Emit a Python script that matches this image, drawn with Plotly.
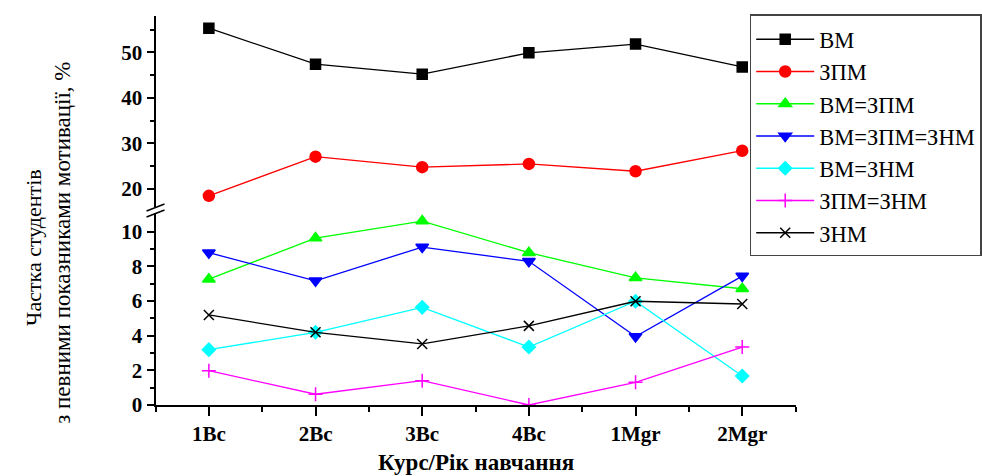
import plotly.graph_objects as go

categories = ["1Bc", "2Bc", "3Bc", "4Bc", "1Mgr", "2Mgr"]

vm = [55.3, 47.4, 45.2, 49.9, 51.8, 46.8]
zpm = [18.5, 27.1, 24.8, 25.5, 23.9, 28.4]
vm_zpm = [7.25, 9.62, 10.6, 8.78, 7.33, 6.7]
vm_zpm_znm = [8.78, 7.16, 9.1, 8.28, 3.95, 7.43]
vm_znm = [3.19, 4.19, 5.63, 3.34, 5.98, 1.67]
zpm_znm = [1.98, 0.62, 1.4, 0.0, 1.31, 3.34]
znm = [5.19, 4.19, 3.52, 4.56, 5.98, 5.82]

upper_ticks = [20, 30, 40, 50]
upper_minor = [25, 35, 45, 55]
lower_ticks = [0, 2, 4, 6, 8, 10]
lower_minor = [1, 3, 5, 7, 9]

W, H = 982, 476
xpos = list(range(len(categories)))
SERIF = "Liberation Serif, DejaVu Serif, serif"

def py(p):
    return 1 - p / H

fig = go.Figure()

series = [
    ("ВМ", vm, "black", "square", 10, "y2", "x2"),
    ("ЗПМ", zpm, "red", "circle", 11, "y2", "x2"),
    ("ВМ=ЗПМ", vm_zpm, "#00ff00", "triangle-up", 11, "y", "x"),
    ("ВМ=ЗПМ=ЗНМ", vm_zpm_znm, "#0000ff", "triangle-down", 11, "y", "x"),
    ("ВМ=ЗНМ", vm_znm, "#00ffff", "diamond", 10, "y", "x"),
    ("ЗПМ=ЗНМ", zpm_znm, "#ff00ff", "cross-thin", 10, "y", "x"),
    ("ЗНМ", znm, "black", "x-thin", 10, "y", "x"),
]

for name, vals, col, sym, sz, ya, xa in series:
    fig.add_trace(go.Scatter(
        x=xpos, y=vals, name=name, mode="lines+markers",
        line=dict(color=col, width=1.3),
        marker=dict(symbol=sym, size=sz, color=col, line=dict(color=col, width=1.5)),
        xaxis=xa, yaxis=ya,
    ))

tickfont = dict(family=SERIF, size=21, color="black", weight="bold")

x_dom = [156 / W, 798 / W]
fig.update_layout(
    width=W, height=H, autosize=False,
    margin=dict(l=0, r=0, t=0, b=0, pad=0),
    paper_bgcolor="white", plot_bgcolor="white",
    showlegend=True,
    xaxis=dict(
        domain=x_dom, range=[-0.5, 5.5], anchor="y", automargin=False,
        tickmode="array", tickvals=xpos, ticktext=categories,
        ticks="outside", ticklen=9, tickwidth=1.5, tickcolor="black",
        minor=dict(tickmode="array", tickvals=[i - 0.5 for i in range(len(categories) + 1)],
                   ticks="outside", ticklen=5, tickwidth=1.5, tickcolor="black"),
        showline=True, linecolor="black", linewidth=2,
        showgrid=False, zeroline=False, tickfont=tickfont,
    ),
    xaxis2=dict(domain=x_dom, range=[-0.5, 5.5], anchor="y2", matches="x",
                visible=False, automargin=False),
    yaxis=dict(
        domain=[py(405), py(213)], range=[0, (405 - 213) / 17.35], anchor="x", automargin=False,
        tickmode="array", tickvals=lower_ticks,
        ticks="outside", ticklen=7, tickwidth=1.5, tickcolor="black",
        minor=dict(tickmode="array", tickvals=lower_minor, ticks="outside",
                   ticklen=4, tickwidth=1.5, tickcolor="black"),
        showline=True, linecolor="black", linewidth=2,
        showgrid=False, zeroline=False, tickfont=tickfont,
    ),
    yaxis2=dict(
        domain=[py(207), py(16)], range=[20 - (207 - 189) / 4.556, 20 + (189 - 16) / 4.556],
        anchor="x2", automargin=False,
        tickmode="array", tickvals=upper_ticks,
        ticks="outside", ticklen=7, tickwidth=1.5, tickcolor="black",
        minor=dict(tickmode="array", tickvals=upper_minor, ticks="outside",
                   ticklen=4, tickwidth=1.5, tickcolor="black"),
        showline=True, linecolor="black", linewidth=2,
        showgrid=False, zeroline=False, tickfont=tickfont,
    ),
    legend=dict(
        x=752 / W, y=py(14), xanchor="left", yanchor="top",
        bgcolor="white", bordercolor="#444", borderwidth=1.5,
        font=dict(family=SERIF, size=22.5, color="black"),
        itemwidth=58,
        title=dict(text=" ", font=dict(size=2)),
    ),
)

# axis break marks
for dy in (0, 6):
    fig.add_shape(type="line", xref="paper", yref="paper",
                  x0=147 / W, x1=165 / W, y0=py(211 + dy), y1=py(204 + dy),
                  line=dict(color="black", width=1.5))

# axis titles
fig.add_annotation(text="Курс/Рік навчання", xref="paper", yref="paper",
                   x=(x_dom[0] + x_dom[1]) / 2, y=py(462), yanchor="middle", xanchor="center",
                   showarrow=False,
                   font=dict(family=SERIF, size=23, color="black", weight="bold"))
fig.add_annotation(text="Частка студентів", xref="paper", yref="paper",
                   x=33 / W, y=py(247), xanchor="center", yanchor="middle",
                   textangle=-90, showarrow=False,
                   font=dict(family=SERIF, size=22, color="black"))
fig.add_annotation(text="з певними показниками мотивації, %", xref="paper", yref="paper",
                   x=63 / W, y=py(243), xanchor="center", yanchor="middle",
                   textangle=-90, showarrow=False,
                   font=dict(family=SERIF, size=23, color="black"))

fig.write_html("out.html")
